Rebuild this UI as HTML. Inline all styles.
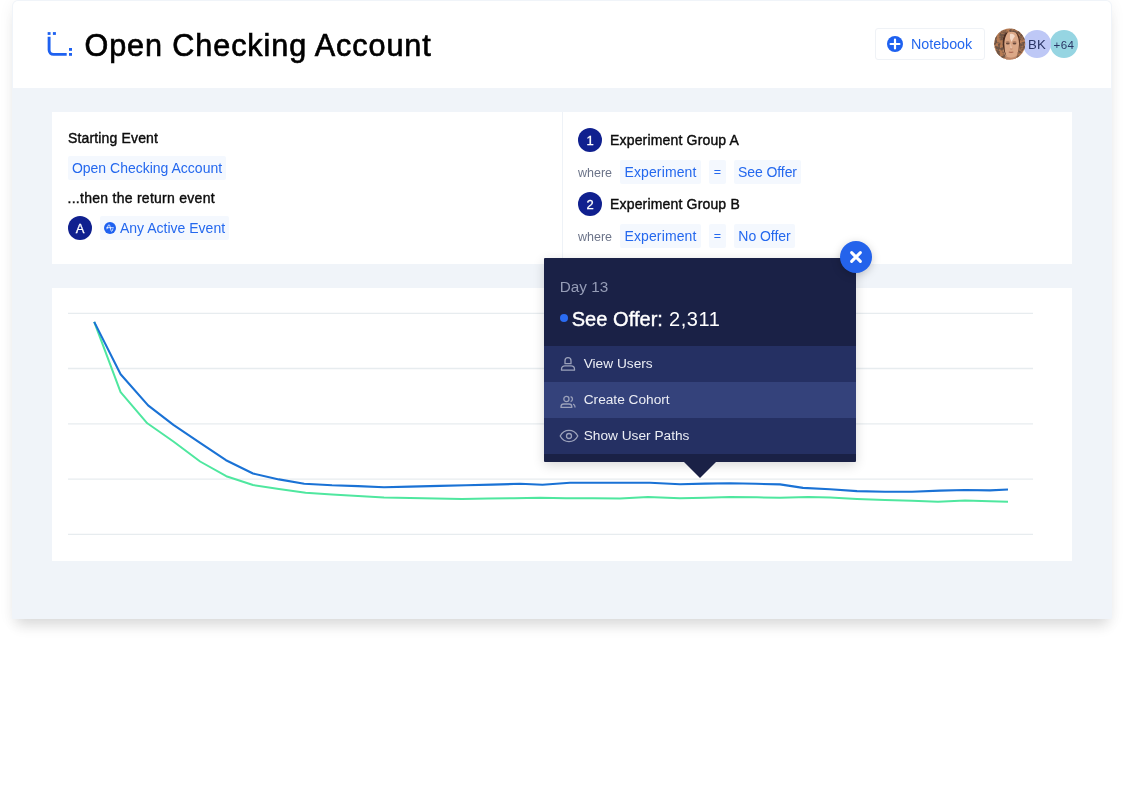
<!DOCTYPE html>
<html><head><meta charset="utf-8">
<style>
html,body{margin:0;padding:0;background:#fff;}
body{width:1124px;height:787px;position:relative;overflow:hidden;font-family:"Liberation Sans",sans-serif;}
.abs{position:absolute;}
#card{position:absolute;left:12px;top:0;width:1100px;height:619px;background:#f0f4f9;border-radius:6px 6px 0 0;box-shadow:0 12px 14px -5px rgba(0,0,0,.11),0 3px 15px rgba(0,0,0,.06);}
#hdr{position:absolute;left:0;top:0;width:1098px;height:87px;background:#fff;border-radius:5px 5px 0 0;}
#title{position:absolute;left:71.5px;top:25.4px;font-size:30.6px;line-height:38px;color:#000;white-space:nowrap;letter-spacing:.9px;-webkit-text-stroke:.65px #000;}
.panel{position:absolute;background:#fff;}
#in{position:absolute;left:1px;top:1px;width:0;height:0;}
.t{position:absolute;white-space:nowrap;line-height:20px;font-size:14px;color:#0c0c0c;}
.m{-webkit-text-stroke:.4px currentColor;}
.chip{position:absolute;height:24px;background:#f4f8fe;border-radius:2px;color:#2468ee;font-size:14px;line-height:24px;white-space:nowrap;text-align:center;}
.circ{position:absolute;width:24px;height:24px;border-radius:50%;background:#10208f;color:#fff;text-align:center;font-size:13px;line-height:25.4px;-webkit-text-stroke:.3px #fff;}
.wh{color:#6c7489;font-size:12.5px;}
#tip{position:absolute;left:530.7px;top:257px;width:312.300px;height:203.7px;background:#1a2146;border-radius:1px;box-shadow:0 3px 12px rgba(0,0,0,.16);}
.row{position:absolute;left:0;width:100%;height:36px;background:#253063;}
.row .t{color:#eceef5;left:40px;top:8px;font-size:13.7px;}
</style></head><body>
<div id="card"><div id="in">
 <div id="hdr">
  <svg class="abs" style="left:0;top:0" width="100" height="87" viewBox="13 1 100 87"><path d="M49.1 36.8V50a4.4 4.4 0 0 0 4.4 4.4H66.7" fill="none" stroke="#1e61f0" stroke-width="2.9"/><g fill="#1e61f0"><rect x="47.65" y="32.1" width="2.9" height="2.8"/><rect x="52.9" y="32.1" width="3" height="2.8"/><rect x="69" y="48" width="3" height="2.8"/><rect x="69" y="53" width="3" height="2.8"/></g></svg>
  <div id="title">Open Checking Account</div>
  <!-- notebook button -->
  <div class="abs" style="left:862px;top:27px;width:108px;height:30px;border:1px solid #eff2f6;border-radius:3px;background:#fff;"></div>
  <svg class="abs" style="left:874px;top:35px" width="16" height="16" viewBox="0 0 16 16"><circle cx="8" cy="8" r="8" fill="#1e61f0"/><path d="M8 3.6V12.4M3.6 8H12.4" stroke="#fff" stroke-width="2.2" stroke-linecap="round"/></svg>
  <div class="t" style="left:898px;top:33px;font-size:14.3px;color:#2468ee;">Notebook</div>
  <!-- avatars -->
  <div class="abs" style="left:1037px;top:29px;width:28px;height:28px;border-radius:50%;background:#96d5e2;"></div>
  <div class="t" style="left:1037px;top:33.6px;width:28px;text-align:center;font-size:11.6px;letter-spacing:.4px;color:#2b3565;">+64</div>
  <div class="abs" style="left:1010px;top:29px;width:28px;height:28px;border-radius:50%;background:#bec8f6;"></div>
  <div class="t" style="left:1010px;top:34px;width:28px;text-align:center;font-size:13.2px;letter-spacing:.2px;color:#2b3565;">BK</div>
  <svg class="abs" style="left:981px;top:27px" width="32" height="32" viewBox="0 0 32 32"><defs><clipPath id="cp"><circle cx="15.7" cy="16" r="15.5"/></clipPath><filter id="nz" x="0" y="0" width="100%" height="100%"><feTurbulence type="fractalNoise" baseFrequency=".32" numOctaves="2" seed="7" result="n"/><feColorMatrix in="n" type="matrix" values="0 0 0 0 .16  0 0 0 0 .09  0 0 0 0 .06  0 0 0 4.5 -1.75"/></filter></defs><g clip-path="url(#cp)"><rect width="32" height="32" fill="#b57a52"/><rect width="32" height="32" filter="url(#nz)"/><path d="M8.500 14Q8.500 3.800 17.500 3.800Q26 3.800 26 14Q26 23 22.500 28L22 32H12L11.500 28Q8.500 22 8.500 14Z" fill="#dca887"/><path d="M8.600 13Q9 5 14 4Q10.500 9 10.300 16Q10.300 23 12.500 28.500Q8.300 22 8.600 13Z" fill="#4a2c1f"/><path d="M26 12Q25.500 6 21.500 4.300Q25 9 25 16Q25 22 23 27Q26.200 22 26 12Z" fill="#5a3625"/><path d="M16 6Q19 5 21 8Q19 11 17.500 14Q15 10 16 6Z" fill="#f3d9c8"/><path d="M16.500 15L17.800 20.500L16.600 20.300Z" fill="#f0d2bf"/><ellipse cx="13.800" cy="15.600" rx="1.900" ry="1" fill="#6b4a3c"/><ellipse cx="20.500" cy="15.600" rx="1.900" ry="1" fill="#6b4a3c"/><path d="M11.800 14.200Q13.800 13.200 15.600 14.200M18.600 14.200Q20.500 13.200 22.400 14.200" stroke="#8a5a44" stroke-width=".7" fill="none"/><path d="M16.200 20.800Q17.200 21.400 18.400 20.800" stroke="#b98368" stroke-width=".8" fill="none"/><path d="M14.800 24Q17 24.800 19.300 24" stroke="#a8644f" stroke-width="1.100" fill="none"/><path d="M11.500 28Q17 31.500 22.500 28L22 32H12Z" fill="#bf8768"/></g></svg>
 </div>

 <!-- config panel -->
 <div class="panel" style="left:39px;top:111px;width:1020px;height:152px;">
  <div class="abs" style="left:510px;top:0;width:1px;height:152px;background:#eef2f7;"></div>
  <div class="t m" style="left:16px;top:16px;letter-spacing:.15px;">Starting Event</div>
  <div class="chip" style="left:16px;top:44px;width:158px;">Open Checking Account</div>
  <div class="t m" style="left:15.5px;top:76px;letter-spacing:.27px;">...then the return event</div>
  <div class="circ" style="left:16px;top:104px;">A</div>
  <div class="chip" style="left:48px;top:104px;width:129px;"></div>
  <svg class="abs" style="left:52px;top:110px" width="12" height="12" viewBox="0 0 12 12"><circle cx="6" cy="6" r="6" fill="#1e61f0"/><path d="M2.300 5.700H9.700M2.800 7.200C3.600 6 4 2.600 5 2.600C6.200 2.600 6.600 9.400 7.700 9.400C8.300 9.400 8.600 7.500 9 6.600" stroke="#fff" stroke-width=".8" fill="none"/></svg>
  <div class="t" style="left:68px;top:106px;color:#2468ee;">Any Active Event</div>

  <div class="circ" style="left:526px;top:16px;">1</div>
  <div class="t m" style="left:558px;top:18px;letter-spacing:.17px;">Experiment Group A</div>
  <div class="t wh" style="left:526px;top:50.5px;">where</div>
  <div class="chip" style="left:568px;top:48px;width:81px;letter-spacing:.12px;">Experiment</div>
  <div class="chip" style="left:657px;top:48px;width:17px;font-size:12.5px;">=</div>
  <div class="chip" style="left:682px;top:48px;width:67px;letter-spacing:-.1px;">See Offer</div>

  <div class="circ" style="left:526px;top:80px;">2</div>
  <div class="t m" style="left:558px;top:82px;letter-spacing:.17px;">Experiment Group B</div>
  <div class="t wh" style="left:526px;top:114.5px;">where</div>
  <div class="chip" style="left:568px;top:112px;width:81px;letter-spacing:.12px;">Experiment</div>
  <div class="chip" style="left:657px;top:112px;width:17px;font-size:12.5px;">=</div>
  <div class="chip" style="left:682px;top:112px;width:61px;letter-spacing:-.05px;">No Offer</div>
 </div>

 <!-- chart panel -->
 <div class="panel" style="left:39px;top:287px;width:1020px;height:273px;">
  <svg class="abs" style="left:0;top:0" width="1020" height="273" viewBox="52 288 1020 273">
   <g stroke="#e7ecef" stroke-width="1.3">
    <line x1="68" x2="1033" y1="313.3" y2="313.3"/><line x1="68" x2="1033" y1="368.5" y2="368.5"/><line x1="68" x2="1033" y1="423.8" y2="423.8"/><line x1="68" x2="1033" y1="479.1" y2="479.1"/><line x1="68" x2="1033" y1="534.3" y2="534.3"/>
   </g>
   <polyline fill="none" stroke="#4fe79f" stroke-width="2" stroke-linejoin="round" points="94.2,321.9 120.6,392.1 147.3,423.3 173.4,441.5 200.1,461.5 226.3,476.2 253,485 278.9,489 305.6,492.7 332,494.5 358,495.9 384,497.5 410,498 436,498.5 462,498.9 488,498.6 514,498.3 540,497.8 566,498.2 593,498.3 620,498.5 648,496.9 680,498.3 705,497.7 730,497.1 757,497.3 780,497.7 808,496.9 830,497.6 857,499 885,499.9 912,500.8 938,501.8 965,500.6 990,501.3 1008,501.8"/>
   <polyline fill="none" stroke="#1a72d5" stroke-width="2.1" stroke-linejoin="round" points="94.2,321.9 120.6,374.2 148.1,405.4 173.4,424.9 200.1,442.8 226,460.2 253,473.5 278.9,479.4 304.2,483.7 332,485.3 358,486.1 384,487.3 410,486.6 440,485.9 466,485.3 492,484.6 520,483.8 542.5,484.8 570,482.8 596,482.8 622,482.8 650,482.8 680,484.2 705,483.6 730,483.2 756,483.8 780,484.4 803,487.9 830,489.3 857,491.1 885,491.8 912,491.8 940,490.6 965,490 990,490.4 1008,489.5"/>
  </svg>
 </div>

 <!-- tooltip -->
 <div id="tip">
  <div class="abs" style="left:140px;top:203.6px;width:0;height:0;border-left:16px solid transparent;border-right:16px solid transparent;border-top:16px solid #1a2146;"></div>
  <div class="t" style="left:16px;top:18.5px;font-size:15.3px;color:#959cb6;">Day 13</div>
  <div class="abs" style="left:16px;top:56px;width:8px;height:8px;border-radius:50%;background:#2a6bf2;"></div>
  <div class="t" style="left:28px;top:48px;font-size:20px;line-height:26px;color:#fff;letter-spacing:.3px;"><span style="-webkit-text-stroke:.4px #fff;letter-spacing:.05px;">See Offer:</span><span style="letter-spacing:.55px;"> 2,311</span></div>
  <div class="row" style="top:88px;">
   <svg class="abs" style="left:15px;top:10px" width="18" height="16" viewBox="0 0 18 16"><path d="M6 7.7V4.700A3 3 0 0 1 12 4.700V7.700Z" fill="none" stroke="#9ba1ba" stroke-width="1.3" stroke-linejoin="round"/><path d="M2.5 14.2V13.2A3.4 3.4 0 0 1 5.9 9.8H12.1A3.4 3.4 0 0 1 15.5 13.2V14.2Z" fill="none" stroke="#9ba1ba" stroke-width="1.3" stroke-linejoin="round"/></svg>
   <div class="t">View Users</div>
  </div>
  <div class="row" style="top:124px;background:#34427b;">
   <svg class="abs" style="left:15.4px;top:12.2px" width="20" height="16" viewBox="0 0 20 16"><circle cx="7.4" cy="5" r="2.6" fill="none" stroke="#9ba1ba" stroke-width="1.3"/><path d="M2 13.4V12.8A2.8 2.8 0 0 1 4.8 10H10A2.8 2.8 0 0 1 12.8 12.8V13.4Z" fill="none" stroke="#9ba1ba" stroke-width="1.3" stroke-linejoin="round"/><path d="M11.6 2.5A2.6 2.6 0 0 1 11.6 7.5M14 10.2A2.8 2.8 0 0 1 16 12.8V13.6" fill="none" stroke="#9ba1ba" stroke-width="1.3"/></svg>
   <div class="t">Create Cohort</div>
  </div>
  <div class="row" style="top:160px;">
   <svg class="abs" style="left:15px;top:9.600px" width="20" height="16" viewBox="0 0 20 16"><path d="M1.2 8C3.2 4.2 6.4 2.4 10 2.4S16.8 4.2 18.8 8C16.8 11.8 13.6 13.6 10 13.6S3.2 11.8 1.2 8Z" fill="none" stroke="#9ba1ba" stroke-width="1.3"/><circle cx="10" cy="8" r="2.5" fill="none" stroke="#9ba1ba" stroke-width="1.3"/></svg>
   <div class="t">Show User Paths</div>
  </div>
 </div>
 <!-- close -->
 <svg class="abs" style="left:826.5px;top:240.300px;filter:drop-shadow(0 2px 4px rgba(0,0,0,.2));" width="32" height="32" viewBox="0 0 32 32"><circle cx="16" cy="16" r="16" fill="#2463eb"/><path d="M11.6 11.6L20.4 20.4M20.4 11.6L11.6 20.4" stroke="#fff" stroke-width="3" stroke-linecap="round"/></svg>
</div></div>
</body></html>
